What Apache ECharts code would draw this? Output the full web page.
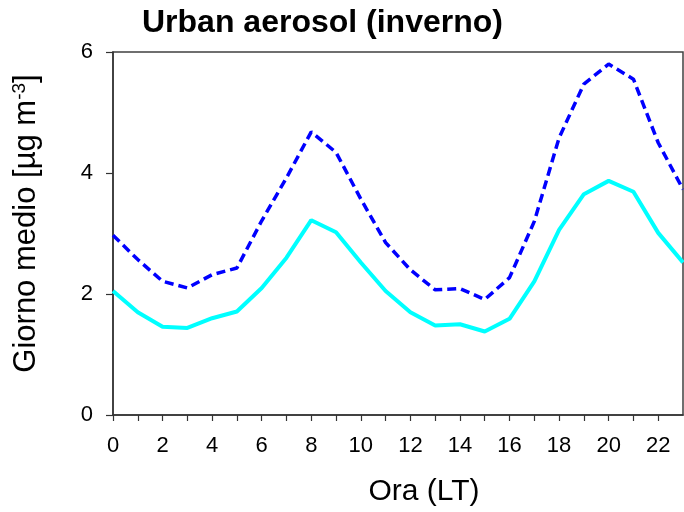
<!DOCTYPE html>
<html>
<head>
<meta charset="utf-8">
<script src="https://cdn.jsdelivr.net/npm/echarts@6/dist/echarts.min.js"></script>
<style>
  html, body { margin: 0; padding: 0; background: #fff; }
  #chart { width: 684px; height: 512px; }
</style>
</head>
<body>
<div id="chart"></div>
<script>
// ore locali (LT)
const hours = [0, 1, 2, 3, 4, 5, 6, 7, 8, 9, 10, 11, 12, 13, 14, 15, 16, 17, 18, 19, 20, 21, 22, 23]
// curva tratteggiata (blu)
const upperSeries = [2.97, 2.57, 2.21, 2.10, 2.32, 2.43, 3.21, 3.92, 4.68, 4.34, 3.57, 2.85,
  2.40, 2.07, 2.09, 1.91, 2.27, 3.20, 4.58, 5.47, 5.80, 5.55, 4.50, 3.73]
// curva continua (ciano)
const lowerSeries = [2.05, 1.70, 1.46, 1.44, 1.60, 1.71, 2.10, 2.60, 3.22, 3.02, 2.52, 2.05,
  1.70, 1.48, 1.50, 1.38, 1.59, 2.21, 3.06, 3.65, 3.87, 3.69, 3.01, 2.52]
const yTicks = [0, 2, 4, 6]

const font = '"Liberation Sans", Arial, sans-serif'
const chart = echarts.init(document.getElementById('chart'), null, { renderer: 'canvas' })

chart.setOption({
  animation: false,
  title: {
    text: 'Urban aerosol (inverno)',
    left: 137,
    top: 2,
    textStyle: { fontFamily: font, fontSize: 32, fontWeight: 'bold', color: '#000' }
  },
  grid: {
    left: 113,
    right: 1,
    top: 52,
    bottom: 97,
    show: true,
    borderColor: '#404040',
    borderWidth: 1.5,
    containLabel: false
  },
  xAxis: {
    type: 'value',
    min: 0,
    max: 23,
    interval: 1,
    name: 'Ora (LT)',
    nameLocation: 'middle',
    nameGap: 62,
    nameTextStyle: { fontFamily: font, fontSize: 30, color: '#000', padding: [0, 0, 0, 52] },
    axisLine: { lineStyle: { color: '#333', width: 1.5 } },
    axisTick: { inside: false, length: 6, lineStyle: { color: '#333', width: 1.2 } },
    axisLabel: {
      fontFamily: font,
      fontSize: 22,
      color: '#000',
      margin: 20,
      showMaxLabel: false,
      formatter: (v) => (v % 2 === 0 ? String(v) : '')
    },
    splitLine: { show: false }
  },
  yAxis: {
    type: 'value',
    min: yTicks[0],
    max: yTicks[yTicks.length - 1],
    interval: 2,
    name: '{a|Giorno medio [µg m}{s|-3}{a|]}',
    nameLocation: 'middle',
    nameGap: 70,
    nameRotate: 90,
    nameTextStyle: {
      padding: [0, 0, 0, 20],
      rich: {
        a: { fontFamily: font, fontSize: 31, color: '#000' },
        s: { fontFamily: font, fontSize: 19, color: '#000', verticalAlign: 'top', padding: [0, 0, 14, 0] }
      }
    },
    axisLine: { show: true, lineStyle: { color: '#333', width: 1.5 } },
    axisTick: { show: true, inside: false, length: 7, lineStyle: { color: '#333', width: 1.2 } },
    axisLabel: { fontFamily: font, fontSize: 22, color: '#000', margin: 20 },
    splitLine: { show: false }
  },
  series: [
    {
      type: 'line',
      name: 'upper',
      data: hours.map((h, i) => [h, upperSeries[i]]),
      showSymbol: false,
      symbol: 'none',
      lineStyle: { color: '#0000ff', width: 3.5, type: [9, 5] },
      z: 3
    },
    {
      type: 'line',
      name: 'lower',
      data: hours.map((h, i) => [h, lowerSeries[i]]),
      showSymbol: false,
      symbol: 'none',
      lineStyle: { color: '#00ffff', width: 4 },
      z: 2
    }
  ]
})
</script>
</body>
</html>
